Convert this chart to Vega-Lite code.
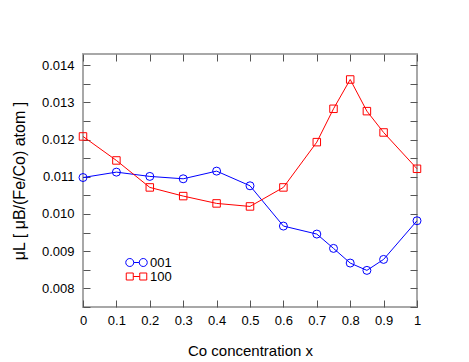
{
  "$schema": "https://vega.github.io/schema/vega-lite/v6.json",
  "autosize": "none",
  "width": 334,
  "height": 253,
  "padding": {"left": 83, "top": 54, "right": 52, "bottom": 55},
  "background": "white",
  "config": {
    "font": "Liberation Sans",
    "view": {"stroke": "#a8a8a8", "strokeWidth": 2},
    "axis": {"grid": false, "domain": false, "tickColor": "#555555", "tickWidth": 1, "labelColor": "black", "labelFont": "Liberation Sans", "labelFontSize": 13, "titleFont": "Liberation Sans", "titleFontWeight": "normal", "titleColor": "black", "titleFontSize": 15},
    "legend": {"title": null, "orient": "none", "legendX": 47, "legendY": 202, "padding": 0, "rowPadding": 0, "symbolSize": 64, "symbolStrokeWidth": 1, "symbolFillColor": "transparent", "labelOffset": 7, "labelFontSize": 13, "labelFont": "Liberation Sans", "labelColor": "black"}
  },
  "data": {"values": [
    {"x": 0, "y": 0.01098, "series": "001"},
    {"x": 0.1, "y": 0.011125, "series": "001"},
    {"x": 0.2, "y": 0.01101, "series": "001"},
    {"x": 0.3, "y": 0.010946, "series": "001"},
    {"x": 0.4, "y": 0.011152, "series": "001"},
    {"x": 0.5, "y": 0.010758, "series": "001"},
    {"x": 0.6, "y": 0.009675, "series": "001"},
    {"x": 0.7, "y": 0.00946, "series": "001"},
    {"x": 0.75, "y": 0.009075, "series": "001"},
    {"x": 0.8, "y": 0.008681, "series": "001"},
    {"x": 0.85, "y": 0.008484, "series": "001"},
    {"x": 0.9, "y": 0.008779, "series": "001"},
    {"x": 1.0, "y": 0.009818, "series": "001"},
    {"x": 0, "y": 0.012084, "series": "100"},
    {"x": 0.1, "y": 0.011439, "series": "100"},
    {"x": 0.2, "y": 0.010714, "series": "100"},
    {"x": 0.3, "y": 0.010481, "series": "100"},
    {"x": 0.4, "y": 0.010284, "series": "100"},
    {"x": 0.5, "y": 0.010203, "series": "100"},
    {"x": 0.6, "y": 0.010714, "series": "100"},
    {"x": 0.7, "y": 0.011931, "series": "100"},
    {"x": 0.75, "y": 0.012827, "series": "100"},
    {"x": 0.8, "y": 0.013615, "series": "100"},
    {"x": 0.85, "y": 0.012764, "series": "100"},
    {"x": 0.9, "y": 0.012191, "series": "100"},
    {"x": 1.0, "y": 0.011215, "series": "100"}
  ]},
  "resolve": {"axis": {"x": "independent", "y": "independent"}},
  "layer": [
    {
      "mark": {"type": "line", "strokeWidth": 1},
      "encoding": {
        "x": {"field": "x", "type": "quantitative", "scale": {"domain": [0, 1], "nice": false},
          "axis": {"orient": "bottom", "values": [0, 0.1, 0.2, 0.3, 0.4, 0.5, 0.6, 0.7, 0.8, 0.9, 1], "format": "~g", "tickSize": -7, "labelPadding": 14, "labelFlush": false, "title": "Co concentration x", "titlePadding": 16}},
        "y": {"field": "y", "type": "quantitative", "scale": {"domain": [0.0075, 0.0143], "nice": false, "zero": false},
          "axis": {"orient": "left", "values": [0.0075, 0.008, 0.0085, 0.009, 0.0095, 0.01, 0.0105, 0.011, 0.0115, 0.012, 0.0125, 0.013, 0.0135, 0.014],
            "labelExpr": "abs(datum.value*1000 - round(datum.value*1000)) < 0.1 ? format(datum.value, '.3f') : ''",
            "tickSize": -7, "labelPadding": 16, "labelFlush": false,
            "title": "μL [ μB/(Fe/Co) atom ]", "titlePadding": 14, "titleFontSize": 16,
            "encode": {"ticks": {"update": {"x2": {"signal": "abs(datum.value*1000 - round(datum.value*1000)) < 0.1 ? 7 : 4"}}}}}},
        "color": {"field": "series", "type": "nominal", "scale": {"domain": ["001", "100"], "range": ["#0000ff", "#ff0000"]},
          "legend": {"encode": {"symbols": {"update": {"shape": {"signal": "datum.value === '001' ? 'M-2.6875,0A1,1 0 1,0 -0.6875,0A1,1 0 1,0 -2.6875,0M0.6875,0A1,1 0 1,0 2.6875,0A1,1 0 1,0 0.6875,0M-0.6875,0L0.6875,0' : 'M-2.5625,-0.875H-0.8125V0.875H-2.5625ZM0.8125,-0.875H2.5625V0.875H0.8125ZM-0.8125,0H0.8125'"}, "fill": {"value": "transparent"}, "strokeWidth": {"value": 1}}}}}}
      }
    },
    {
      "transform": [{"filter": "datum.series === '001'"}],
      "mark": {"type": "point", "filled": false, "strokeWidth": 1, "opacity": 1, "shape": "circle", "size": 64},
      "encoding": {
        "x": {"field": "x", "type": "quantitative", "scale": {"domain": [0, 1], "nice": false},
          "axis": {"orient": "top", "values": [0, 0.1, 0.2, 0.3, 0.4, 0.5, 0.6, 0.7, 0.8, 0.9, 1], "tickSize": -7, "labels": false, "title": null}},
        "y": {"field": "y", "type": "quantitative", "scale": {"domain": [0.0075, 0.0143], "nice": false, "zero": false},
          "axis": {"orient": "right", "values": [0.0075, 0.008, 0.0085, 0.009, 0.0095, 0.01, 0.0105, 0.011, 0.0115, 0.012, 0.0125, 0.013, 0.0135, 0.014], "labels": false, "title": null, "tickSize": -7,
            "encode": {"ticks": {"update": {"x2": {"signal": "abs(datum.value*1000 - round(datum.value*1000)) < 0.1 ? -7 : -4"}}}}}},
        "color": {"field": "series", "type": "nominal", "scale": {"domain": ["001", "100"], "range": ["#0000ff", "#ff0000"]}, "legend": null}
      }
    },
    {
      "transform": [{"filter": "datum.series === '100'"}],
      "mark": {"type": "point", "filled": false, "strokeWidth": 1, "opacity": 1, "shape": "square", "size": 56},
      "encoding": {
        "x": {"field": "x", "type": "quantitative", "scale": {"domain": [0, 1], "nice": false}, "axis": null},
        "y": {"field": "y", "type": "quantitative", "scale": {"domain": [0.0075, 0.0143], "nice": false, "zero": false}, "axis": null},
        "color": {"field": "series", "type": "nominal", "scale": {"domain": ["001", "100"], "range": ["#0000ff", "#ff0000"]}, "legend": null}
      }
    }
  ]
}
